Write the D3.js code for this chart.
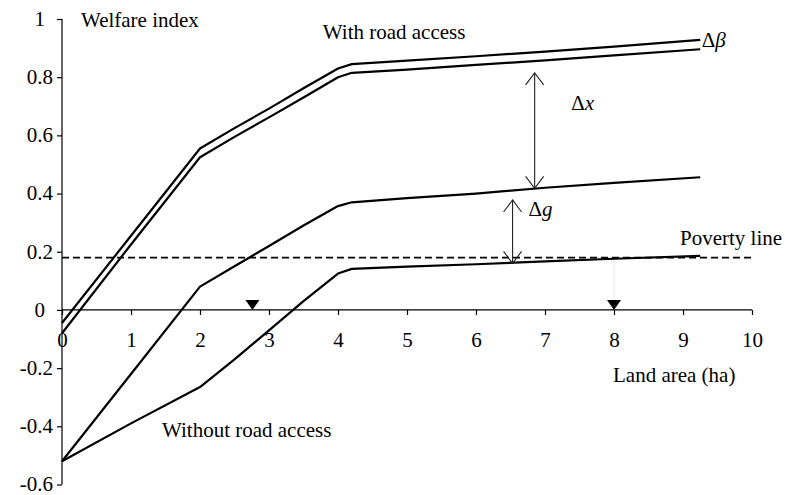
<!DOCTYPE html>
<html>
<head>
<meta charset="utf-8">
<script src="https://cdn.jsdelivr.net/npm/d3@7/dist/d3.min.js"></script>
<style>
  html, body { margin: 0; padding: 0; background: #fff; }
  svg { display: block; }
  svg text { font-family: "Liberation Serif", "Times New Roman", Tinos, "DejaVu Serif", serif !important; fill: #000; }
</style>
</head>
<body>
<svg id="chart" width="785" height="495"></svg>
<script>
// ---- data ----
const landArea = [0, 1, 2, 2.5, 3, 3.5, 4, 4.2, 5, 6, 7, 8, 9.25];
const withRoadUpper = [-0.045, 0.255, 0.555, 0.625, 0.692, 0.762, 0.83, 0.845, 0.857, 0.872, 0.888, 0.905, 0.928];
const withRoadLower = [-0.08, 0.225, 0.525, 0.595, 0.662, 0.73, 0.8, 0.815, 0.826, 0.842, 0.858, 0.875, 0.896];
const withoutRoadUpper = [-0.52, -0.22, 0.08, 0.15, 0.22, 0.29, 0.357, 0.37, 0.384, 0.4, 0.42, 0.437, 0.456];
const withoutRoadLower = [-0.52, -0.39, -0.265, -0.17, -0.07, 0.03, 0.125, 0.141, 0.149, 0.157, 0.167, 0.176, 0.186];
const povertyLine = 0.18;
const triangleMarks = [2.76, 8];
const xTicks = [0, 1, 2, 3, 4, 5, 6, 7, 8, 9, 10];
const xTickLabels = ["0", "1", "2", "3", "4", "5", "6", "7", "8", "9", "10"];
const yTicks = [-0.6, -0.4, -0.2, 0, 0.2, 0.4, 0.6, 0.8, 1];
const yTickLabels = ["-0.6", "-0.4", "-0.2", "0", "0.2", "0.4", "0.6", "0.8", "1"];
// arrows: [x, yFrom(top), yTo(bottom)]
const arrowDx = [6.85, 0.815, 0.418];
const arrowDg = [6.53, 0.378, 0.16];

// ---- chart ----
const svg = d3.select("#chart");
const x = d3.scaleLinear().domain([0, 10]).range([62, 752]);
const y = d3.scaleLinear().domain([-0.6, 1]).range([484.5, 19]);
const FS = 21;

// y axis
const yAxis = d3.axisLeft(y).tickValues(yTicks).tickSize(5).tickPadding(4)
  .tickFormat((d, i) => yTickLabels[i]);
const gy = svg.append("g").attr("transform", `translate(${x(0)},0)`).call(yAxis);
gy.attr("font-family", null);
gy.select(".domain").attr("stroke", "#000").attr("stroke-width", 1.2).attr("d", `M0,${y(1)}V${y(-0.6)}`);
gy.selectAll(".tick line").attr("stroke", "#000").attr("stroke-width", 1.2);
gy.selectAll(".tick text").attr("font-size", FS).attr("dy", "0.3em")
  .attr("x", (d, i) => yTickLabels[i].indexOf(".") < 0 ? -17 : -9);

// x axis at y=0
const xAxis = d3.axisBottom(x).tickValues(xTicks).tickSize(5).tickPadding(17)
  .tickFormat((d, i) => xTickLabels[i]);
const gx = svg.append("g").attr("transform", `translate(0,${y(0)})`).call(xAxis);
gx.attr("font-family", null);
gx.select(".domain").attr("stroke", "#000").attr("stroke-width", 1.2).attr("d", `M${x(0)},0H${x(10)}`);
gx.selectAll(".tick line").attr("stroke", "#000").attr("stroke-width", 1.2);
gx.selectAll(".tick text").attr("font-size", FS);

// poverty line
svg.append("line")
  .attr("x1", x(0)).attr("x2", x(10))
  .attr("y1", y(povertyLine)).attr("y2", y(povertyLine))
  .attr("stroke", "#000").attr("stroke-width", 1.8).attr("stroke-dasharray", "7,4");

// faint guide at second triangle
svg.append("line")
  .attr("x1", x(triangleMarks[1])).attr("x2", x(triangleMarks[1]))
  .attr("y1", y(withoutRoadLower[11])).attr("y2", y(0) - 10)
  .attr("stroke", "#e6e6e6").attr("stroke-width", 1);

// curves
const line = d3.line().x(d => x(d[0])).y(d => y(d[1]));
[withRoadUpper, withRoadLower, withoutRoadUpper, withoutRoadLower].forEach(series => {
  svg.append("path")
    .datum(landArea.map((a, i) => [a, series[i]]))
    .attr("d", line)
    .attr("fill", "none").attr("stroke", "#000").attr("stroke-width", 2.2)
    .attr("stroke-linejoin", "round");
});

// triangles sitting on the x axis
triangleMarks.forEach(t => {
  const cx = x(t), by = y(0);
  svg.append("path")
    .attr("d", `M${cx - 7},${by - 10}L${cx + 7},${by - 10}L${cx},${by}Z`)
    .attr("fill", "#000");
});

// double arrows with open heads
function doubleArrow(a) {
  const ax = x(a[0]), y1 = y(a[1]), y2 = y(a[2]);
  const g = svg.append("g").attr("stroke", "#222").attr("stroke-width", 1.1).attr("fill", "none");
  g.append("line").attr("x1", ax).attr("x2", ax).attr("y1", y1).attr("y2", y2);
  g.append("path").attr("d", `M${ax - 9},${y1 + 12}L${ax},${y1}L${ax + 9},${y1 + 12}`);
  g.append("path").attr("d", `M${ax - 9},${y2 - 12}L${ax},${y2}L${ax + 9},${y2 - 12}`);
}
doubleArrow(arrowDx);
doubleArrow(arrowDg);

// labels
function label(px, py, parts) {
  const t = svg.append("text").attr("x", px).attr("y", py).attr("font-size", FS);
  parts.forEach(p => t.append("tspan").attr("font-style", p[1] ? "italic" : "normal").text(p[0]));
  return t;
}
label(81, 26.5, [["Welfare index", false]]);
label(x(3.78), 39, [["With road access", false]]);
label(x(9.27), 47, [["\u0394", false], ["\u03B2", true]]);
label(x(7.38), 110, [["\u0394", false], ["x", true]]);
label(x(6.76), 216, [["\u0394", false], ["g", true]]);
label(680, 245, [["Poverty line", false]]);
label(613, 382, [["Land area (ha)", false]]);
label(162, 436.5, [["Without road access", false]]);
</script>
</body>
</html>
